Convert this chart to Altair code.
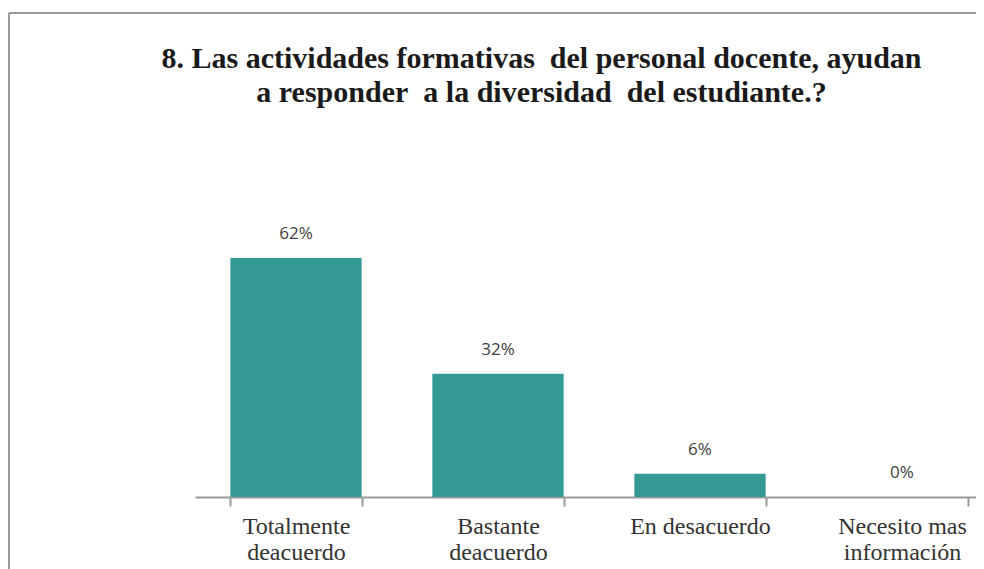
import altair as alt
import pandas as pd

categories = ["Totalmente|deacuerdo", "Bastante|deacuerdo", "En desacuerdo", "Necesito mas|información"]
values = [0.62, 0.32, 0.06, 0.0]
labels = ["62%", "32%", "6%", "0%"]

title_lines = [
    "8. Las actividades formativas\u00a0 del personal docente, ayudan",
    "a responder\u00a0 a la diversidad\u00a0 del estudiante.?",
]

df = pd.DataFrame({"cat": categories, "val": values, "lab": labels})

W, H = 967, 484
TEAL = "#339B94"
GRAY = "#9a9a9a"
SERIF = "Liberation Serif, Times New Roman, DejaVu Serif, serif"

x_scale = alt.Scale(range=[186, 994], paddingInner=0.35, paddingOuter=0.175)
y_scale = alt.Scale(domain=[0, 0.7], range=[H, H - 0.7 * 385.5])

x_enc = alt.X(
    "cat:N",
    sort=categories,
    title=None,
    scale=x_scale,
    axis=alt.Axis(
        labelExpr="split(datum.label, '|')",
        labelAngle=0,
        labelFont=SERIF,
        labelFontSize=24,
        labelColor="#333333",
        labelLineHeight=26,
        labelPadding=8,
        labelLimit=400,
        domainColor=GRAY,
        domainWidth=2,
        tickColor=GRAY,
        tickWidth=2,
        tickSize=9,
        tickBand="extent",
        grid=False,
    ),
)
y_enc = alt.Y("val:Q", scale=y_scale, axis=None)

bars = alt.Chart(df).mark_bar(color=TEAL).encode(x=x_enc, y=y_enc)
text = alt.Chart(df).mark_text(
    baseline="bottom", dy=-15, font="Open Sans", fontSize=17, color="#404040"
).encode(x=x_enc, y=y_enc, text="lab:N")

top_border = alt.Chart(df).mark_rule(color=GRAY, strokeWidth=2).encode(
    x=alt.value(0), x2=alt.value(W + 10), y=alt.value(0)
)
left_border = alt.Chart(df).mark_rule(color=GRAY, strokeWidth=2).encode(
    x=alt.value(0), y=alt.value(0), y2=alt.value(H + 90)
)

chart = (
    alt.layer(top_border, left_border, bars, text)
    .properties(
        width=W,
        height=H,
        view=alt.ViewBackground(strokeOpacity=0, strokeWidth=0),
        autosize=alt.AutoSizeParams(type="none"),
        padding={"left": 1, "top": 5, "right": 0, "bottom": 72},
        title=alt.TitleParams(
            text=title_lines,
            font=SERIF,
            fontSize=30,
            fontWeight="bold",
            color="#1a1a1a",
            anchor="middle",
            frame="group",
            dx=49,
            offset=-96,
            lineHeight=34,
        ),
    )
    .configure_view(strokeOpacity=0, strokeWidth=0)
    .configure_axis(grid=False)
    .configure(background="white")
)

chart.save("out.html", embed_options={"renderer": "svg", "actions": False})
